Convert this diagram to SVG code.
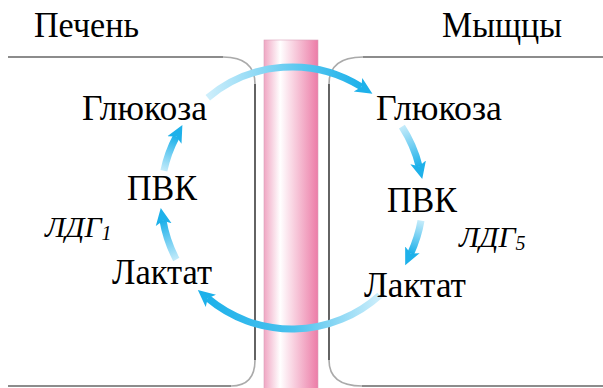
<svg xmlns="http://www.w3.org/2000/svg" width="603" height="388" viewBox="0 0 603 388">
<style>
.t{font-family:"Liberation Serif","Times New Roman",serif;font-size:35px;fill:#000}
.e{font-family:"Liberation Serif","Times New Roman",serif;font-size:30px;font-style:italic;fill:#000}
.s{font-size:20px}
.hl{stroke:#666;stroke-width:1.6;fill:none}
.cv{stroke:#aaa;stroke-width:1.6;fill:none}
.vl{stroke:#222;stroke-width:1.4;fill:none}
.ar{fill:none;stroke-width:7}
</style>
<defs>
<linearGradient id="pink" x1="0" y1="0" x2="1" y2="0">
<stop offset="0" stop-color="#f0a6c3"/>
<stop offset="0.3" stop-color="#ffffff"/>
<stop offset="1" stop-color="#ec7ca7"/>
</linearGradient>
<marker id="ah" markerUnits="userSpaceOnUse" markerWidth="18" markerHeight="18" refX="4" refY="8" orient="auto" viewBox="0 0 18 16">
<path d="M0,0 L17,8 L0,16 L4,8 z" fill="#1eb1ea"/>
</marker>
<linearGradient id="g1" gradientUnits="userSpaceOnUse" x1="208" y1="98" x2="361" y2="87"><stop offset="0" stop-color="#cdeefb"/><stop offset="0.6" stop-color="#5cc8f0"/><stop offset="1" stop-color="#1eb1ea"/></linearGradient>
<linearGradient id="g2" gradientUnits="userSpaceOnUse" x1="402" y1="127" x2="419" y2="166"><stop offset="0" stop-color="#c4ebfa"/><stop offset="1" stop-color="#1eb1ea"/></linearGradient>
<linearGradient id="g3" gradientUnits="userSpaceOnUse" x1="421" y1="221" x2="411" y2="253"><stop offset="0" stop-color="#c4ebfa"/><stop offset="1" stop-color="#1eb1ea"/></linearGradient>
<linearGradient id="g4" gradientUnits="userSpaceOnUse" x1="380" y1="295" x2="208" y2="298"><stop offset="0" stop-color="#cdeefb"/><stop offset="0.5" stop-color="#4cc2ee"/><stop offset="1" stop-color="#1eb1ea"/></linearGradient>
<linearGradient id="g5" gradientUnits="userSpaceOnUse" x1="176" y1="260" x2="163" y2="221"><stop offset="0" stop-color="#c4ebfa"/><stop offset="1" stop-color="#1eb1ea"/></linearGradient>
<linearGradient id="g6" gradientUnits="userSpaceOnUse" x1="164" y1="171" x2="176" y2="137"><stop offset="0" stop-color="#c4ebfa"/><stop offset="1" stop-color="#1eb1ea"/></linearGradient>
</defs>

<g id="membrane">
<rect x="264" y="40" width="54" height="350" fill="url(#pink)" stroke="#d9a0b8" stroke-width="0.6"/>
<path class="hl" d="M8,57 H223"/>
<path class="cv" d="M223,57 Q255,57 255,84"/>
<path class="vl" d="M255,84 V360"/>
<path class="cv" d="M255,360 Q255,386 231,386"/>
<path class="hl" d="M8,386 H231"/>
<path class="hl" d="M603,57 H363"/>
<path class="cv" d="M363,57 Q329,57 329,84"/>
<path class="vl" d="M329,84 V360"/>
<path class="cv" d="M329,360 Q329,386 362,386"/>
<path class="hl" d="M603,386 H362"/>
</g>

<g id="connectors">
<path class="ar" stroke="url(#g1)" marker-end="url(#ah)" d="M207.8,97.7 A131,131 0 0 1 361.4,86.9"/>
<path class="ar" stroke="url(#g2)" marker-end="url(#ah)" d="M401.9,126.7 A131,131 0 0 1 419.1,166.3"/>
<path class="ar" stroke="url(#g3)" marker-end="url(#ah)" d="M421.0,220.7 A131,131 0 0 1 410.7,253.4"/>
<path class="ar" stroke="url(#g4)" marker-end="url(#ah)" d="M379.7,295.3 A131,131 0 0 1 207.8,298.3"/>
<path class="ar" stroke="url(#g5)" marker-end="url(#ah)" d="M176.3,259.5 A131,131 0 0 1 163.0,220.7"/>
<path class="ar" stroke="url(#g6)" marker-end="url(#ah)" d="M163.9,170.8 A131,131 0 0 1 176.3,136.5"/>
</g>

<g id="liver-title"><text class="t" x="34" y="37" textLength="105" lengthAdjust="spacingAndGlyphs">Печень</text></g>
<g id="muscle-title"><text class="t" x="442" y="37" textLength="120" lengthAdjust="spacingAndGlyphs">Мыщцы</text></g>
<g id="glucose-liver"><text class="t" x="82" y="120" textLength="125" lengthAdjust="spacingAndGlyphs">Глюкоза</text></g>
<g id="glucose-muscle"><text class="t" x="376" y="120" textLength="126" lengthAdjust="spacingAndGlyphs">Глюкоза</text></g>
<g id="pvk-liver"><text class="t" x="127" y="200" textLength="70" lengthAdjust="spacingAndGlyphs">ПВК</text></g>
<g id="pvk-muscle"><text class="t" x="387" y="212" textLength="70" lengthAdjust="spacingAndGlyphs">ПВК</text></g>
<g id="ldg1"><text class="e" x="45" y="237">ЛДГ<tspan class="s" dy="3">1</tspan></text></g>
<g id="ldg5"><text class="e" x="459" y="247">ЛДГ<tspan class="s" dy="3">5</tspan></text></g>
<g id="lactate-liver"><text class="t" x="112" y="284" textLength="100" lengthAdjust="spacingAndGlyphs">Лактат</text></g>
<g id="lactate-muscle"><text class="t" x="364" y="297" textLength="102" lengthAdjust="spacingAndGlyphs">Лактат</text></g>
</svg>
